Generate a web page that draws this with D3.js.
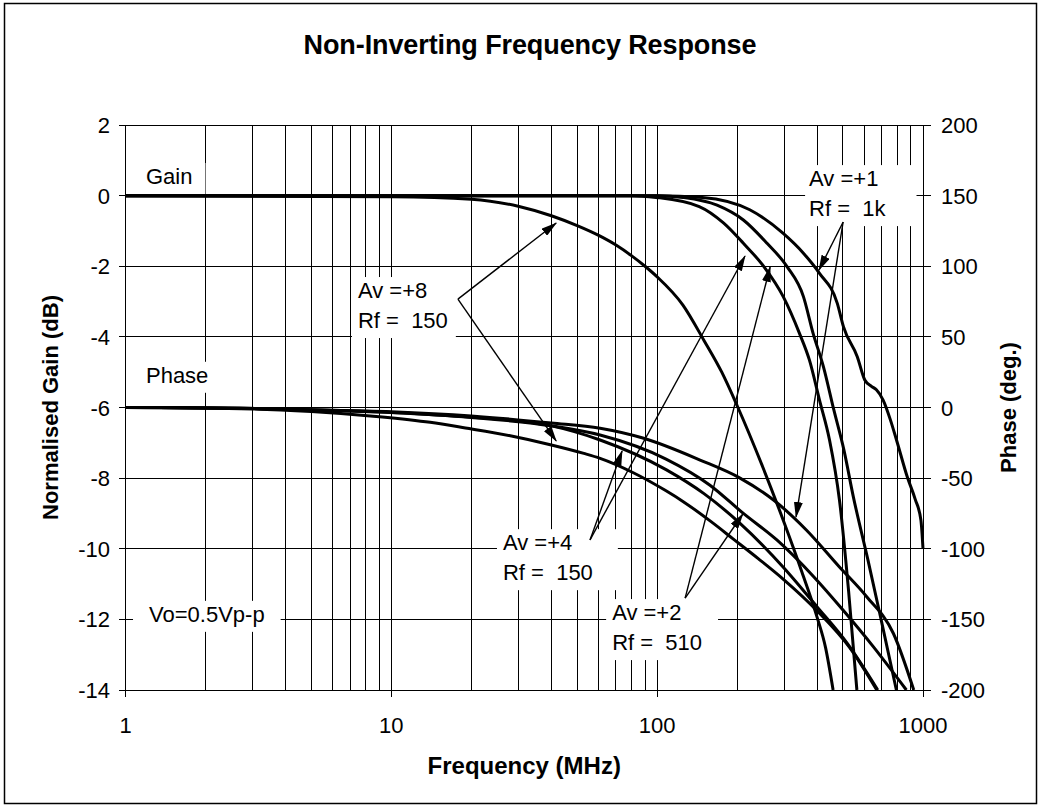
<!DOCTYPE html>
<html>
<head>
<meta charset="utf-8">
<script src="https://cdnjs.cloudflare.com/ajax/libs/d3/7.8.5/d3.min.js"></script>
<style>
  html, body { margin: 0; padding: 0; background: #fff; }
  svg { display: block; }
  text { font-family: "Liberation Sans", Arial, sans-serif; fill: #000; white-space: pre; }
</style>
</head>
<body>
<svg id="chart" width="1042" height="808"></svg>
<script>
// ---------------- DATA ----------------
const freqTickLabels = [1, 10, 100, 1000];
const gainTickValues = [-14, -12, -10, -8, -6, -4, -2, 0, 2];
const phaseTickValues = [-200, -150, -100, -50, 0, 50, 100, 150, 200];

// Gain curves (MHz, dB) - left axis
const gainAv1F = [1, 100, 148, 223, 298, 355, 408, 476, 502, 566, 604, 640, 668, 708, 754, 795, 873, 935, 982, 1000];
const gainAv1  = [0, 0, -0.05, -0.4, -1.07, -1.63, -2.2, -3.05, -3.71, -4.56, -5.22, -5.4, -5.5, -5.79, -6.35, -6.92, -7.97, -8.6, -9.19, -10.0];
const gainAv2F = [1, 100, 125, 168, 211, 259, 308, 355, 386, 422, 462, 504, 547, 620, 700, 794];
const gainAv2  = [0, 0, -0.05, -0.27, -0.69, -1.35, -2.01, -2.86, -3.9, -4.84, -6.07, -7.2, -8.53, -10.3, -12.1, -14.0];
const gainAv4F = [1, 80, 99, 144, 178, 211, 252, 298, 343, 374, 408, 445, 485, 525, 564];
const gainAv4  = [0, 0, -0.05, -0.31, -0.78, -1.35, -2.01, -2.86, -3.9, -4.66, -5.79, -6.92, -8.62, -11.2, -14.0];
const gainAv8F = [1, 10, 20, 30, 40, 50, 60, 70, 80, 90, 100, 125, 150, 175, 200, 250, 300, 350, 400, 430, 459];
const gainAv8  = [0, -0.03, -0.10, -0.30, -0.57, -0.85, -1.12, -1.40, -1.70, -2.00, -2.30, -3.10, -4.10, -5.00, -5.95, -7.70, -9.25, -10.65, -11.95, -12.8, -14.0];

// Phase curves (MHz, degrees) - right axis
const phaseAv1F = [1, 2.7, 4.5, 10, 20, 40, 61, 89, 145, 205, 274, 364, 484, 614, 774, 923];
const phaseAv1  = [0, -0.5, -1.5, -3, -6, -11, -14.7, -21.8, -37.2, -50, -65.5, -86.7, -112.7, -134, -160, -200];
const phaseAv2F = [1, 2.7, 4.5, 10, 20, 40, 61, 108, 158, 211, 282, 388, 500, 650, 866];
const phaseAv2  = [0, -0.5, -1.5, -3.5, -7, -13, -19.5, -36.5, -55, -75, -93.8, -119.8, -143.4, -169.3, -200];
const phaseAv4F = [1, 2.7, 4.5, 10, 19, 40, 61, 108, 150, 205, 297, 399, 519, 676];
const phaseAv4  = [0, -0.5, -1.5, -3.5, -6.5, -13, -23, -44, -61, -82, -112.7, -141, -167, -200];
const phaseAv8F = [1, 3, 5, 9, 14, 19, 28, 40, 53, 61, 81, 108, 125, 160, 193, 240, 300, 400, 530, 670];
const phaseAv8  = [0, -1, -2.8, -6.5, -10.5, -14.5, -20, -26.5, -32.5, -36, -46, -59, -66.5, -81, -93, -107, -122, -144, -170, -200];

// Annotations: text anchored in data space (MHz, dB)
const annotations = [
  { lines: ["Gain"], f: 1.194, db: 0.33, padL: 6, padR: 13 },
  { lines: ["Phase"], f: 1.194, db: -5.30, padL: 6, padR: 10 },
  { lines: ["Vo=0.5Vp-p"], f: 1.226, db: -12.07, padL: 16, padR: 16 },
  { lines: ["Av =+8", "Rf =  150"], f: 7.49, db: -2.90, padL: 6, padR: 8 },
  { lines: ["Av =+1", "Rf =  1k"], f: 372.8, db: 0.27, padL: 4, padR: 30 },
  { lines: ["Av =+4", "Rf =  150"], f: 26.3, db: -10.04, padL: 6, padR: 25 },
  { lines: ["Av =+2", "Rf =  510"], f: 67.7, db: -12.02, padL: 6, padR: 16 }
];
// Arrows: from (f, dB) to target on gain (dB) or phase (deg) axis
const arrows = [
  { from: [17.8, -2.93], to: [41.7, -0.775], axis: "gain" },
  { from: [17.8, -2.93], to: [41.7, -23.7], axis: "phase" },
  { from: [500.6, -0.747], to: [406, -2.11], axis: "gain" },
  { from: [500.6, -0.747], to: [333, -77.5], axis: "phase" },
  { from: [55.9, -9.75], to: [214, -1.71], axis: "gain" },
  { from: [55.9, -9.75], to: [73.8, -30.8], axis: "phase" },
  { from: [127.4, -11.4], to: [266, -2.02], axis: "gain" },
  { from: [127.4, -11.4], to: [210, -75.4], axis: "phase" }
];

// ---------------- LAYOUT ----------------
const W = 1042, H = 808;
const L = 125.5, R = 923, T = 125, B = 690;
const svg = d3.select("#chart");

const x = d3.scaleLog().domain([1, 1000]).range([L, R]);
const yG = d3.scaleLinear().domain([-14, 2]).range([B, T]);
const yP = d3.scaleLinear().domain([-200, 200]).range([B, T]);

// Outer frame
svg.append("rect").attr("x", 0).attr("y", 0).attr("width", W).attr("height", H).attr("fill", "#fff");
svg.append("rect").attr("x", 4.5).attr("y", 3.5).attr("width", 1032).attr("height", 800)
  .attr("fill", "none").attr("stroke", "#000").attr("stroke-width", 1.5);

// Title
svg.append("text").attr("x", 530).attr("y", 54).attr("text-anchor", "middle")
  .attr("font-size", 27).attr("font-weight", "bold").attr("letter-spacing", "-0.1")
  .text("Non-Inverting Frequency Response");

// Gridlines
const grid = svg.append("g").attr("shape-rendering", "crispEdges").attr("stroke", "#000").attr("stroke-width", 1);
const minorF = [];
for (let d = 1; d <= 100; d *= 10) for (let k = 2; k <= 10; k++) minorF.push(d * k);
minorF.filter(f => f < 1000).forEach(f => {
  grid.append("line").attr("x1", x(f)).attr("x2", x(f)).attr("y1", T).attr("y2", B);
});
gainTickValues.forEach(v => {
  grid.append("line").attr("x1", L).attr("x2", R).attr("y1", yG(v)).attr("y2", yG(v));
});

// Axes
const axG = svg.append("g").attr("shape-rendering", "crispEdges").attr("stroke", "#000").attr("stroke-width", 1);
axG.append("line").attr("x1", L).attr("x2", L).attr("y1", T).attr("y2", B + 7);
axG.append("line").attr("x1", R).attr("x2", R).attr("y1", T).attr("y2", B + 7);
axG.append("line").attr("x1", L - 7).attr("x2", R + 7).attr("y1", B).attr("y2", B);
gainTickValues.forEach(v => axG.append("line").attr("x1", L - 7).attr("x2", L).attr("y1", yG(v)).attr("y2", yG(v)));
phaseTickValues.forEach(v => axG.append("line").attr("x1", R - 8).attr("x2", R + 8).attr("y1", yP(v)).attr("y2", yP(v)));
freqTickLabels.forEach(f => axG.append("line").attr("x1", x(f)).attr("x2", x(f)).attr("y1", B).attr("y2", B + 7));

// Tick labels
const fsTick = 22;
gainTickValues.forEach(v => svg.append("text").attr("x", 110).attr("y", yG(v) + 8)
  .attr("text-anchor", "end").attr("font-size", fsTick).text(v));
phaseTickValues.forEach(v => svg.append("text").attr("x", 941).attr("y", yP(v) + 8)
  .attr("text-anchor", "start").attr("font-size", fsTick).text(v));
freqTickLabels.forEach(f => svg.append("text").attr("x", x(f)).attr("y", 733)
  .attr("text-anchor", "middle").attr("font-size", fsTick).text(f));

// Axis titles
svg.append("text").attr("x", (L + R) / 2).attr("y", 774).attr("text-anchor", "middle")
  .attr("font-size", 24).attr("font-weight", "bold").text("Frequency (MHz)");
svg.append("text").attr("transform", `translate(58,${(T + B) / 2}) rotate(-90)`).attr("text-anchor", "middle")
  .attr("font-size", 22).attr("font-weight", "bold").text("Normalised Gain (dB)");
svg.append("text").attr("transform", `translate(1016,${(T + B) / 2}) rotate(-90)`).attr("text-anchor", "middle")
  .attr("font-size", 22).attr("font-weight", "bold").text("Phase (deg.)");

// Annotation boxes (white, hide gridlines)
const fsAnn = 22, lineH = 30;
const annG = svg.append("g");
const annTexts = annotations.map(a => {
  const g = annG.append("g");
  const t = g.append("text").attr("font-size", fsAnn);
  a.lines.forEach((s, i) => t.append("tspan").attr("x", x(a.f)).attr("y", yG(a.db) + i * lineH).text(s));
  return { a, g, t };
});

const curveG = svg.append("g").attr("fill", "none").attr("stroke", "#000").attr("stroke-width", 3)
  .attr("stroke-linejoin", "round").attr("stroke-linecap", "butt");

annTexts.forEach(({ a, g, t }) => {
  const bb = t.node().getBBox();
  g.insert("rect", "text").attr("x", bb.x - a.padL).attr("y", bb.y - 1)
    .attr("width", bb.width + a.padL + a.padR).attr("height", bb.height + 6).attr("fill", "#fff");
});

// Curves
const gainLine = d3.line().x(d => x(d[0])).y(d => yG(d[1])).curve(d3.curveMonotoneX);
const phaseLine = d3.line().x(d => x(d[0])).y(d => yP(d[1])).curve(d3.curveMonotoneX);
const zip = (a, b) => a.map((v, i) => [v, b[i]]);
[[gainAv1F, gainAv1], [gainAv2F, gainAv2], [gainAv4F, gainAv4], [gainAv8F, gainAv8]]
  .forEach(([f, v]) => curveG.append("path").attr("d", gainLine(zip(f, v))));
[[phaseAv1F, phaseAv1], [phaseAv2F, phaseAv2], [phaseAv4F, phaseAv4], [phaseAv8F, phaseAv8]]
  .forEach(([f, v]) => curveG.append("path").attr("d", phaseLine(zip(f, v))));

// bring annotation texts on top
annG.raise();

// Arrows
const defs = svg.append("defs");
defs.append("marker").attr("id", "ah").attr("markerUnits", "userSpaceOnUse")
  .attr("markerWidth", 16).attr("markerHeight", 9).attr("refX", 15).attr("refY", 4.5)
  .attr("orient", "auto").append("path").attr("d", "M0,0 L16,4.5 L0,9 Z").attr("fill", "#000");
const arrG = svg.append("g").attr("stroke", "#000").attr("stroke-width", 1.4);
arrows.forEach(a => {
  const ty = a.axis === "gain" ? yG(a.to[1]) : yP(a.to[1]);
  arrG.append("line").attr("x1", x(a.from[0])).attr("y1", yG(a.from[1]))
    .attr("x2", x(a.to[0])).attr("y2", ty).attr("marker-end", "url(#ah)");
});
</script>
</body>
</html>
